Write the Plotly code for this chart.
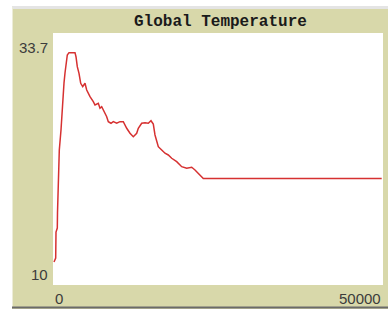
import plotly.graph_objects as go

# ---- data ----
ticks = [150, 409, 455, 652, 682, 803, 955, 1212, 1409, 1667, 1818, 1970, 2167, 2424,
         3333, 3485, 3682, 3939, 4197, 4500, 4848, 5106, 5606, 6106, 6364, 6864, 7121,
         7379, 7773, 8136, 8379, 8788, 9136, 9652, 10152, 10652, 11167, 11667, 12167,
         12682, 12924, 13440, 13940, 14440, 14848, 15197, 15455, 15712, 15955, 16470,
         16970, 17470, 17985, 18742, 19500, 20258, 21015, 21515, 22015, 22773, 49803]
temperature = [12.16, 12.54, 14.98, 15.36, 16.77, 19.12, 22.70, 24.58, 26.74, 29.00,
               29.94, 30.88, 31.63, 31.85, 31.85, 31.47, 30.53, 29.91, 28.97, 28.65,
               28.97, 28.34, 27.71, 27.24, 26.93, 27.09, 26.62, 26.77, 26.30, 25.83,
               25.36, 25.21, 25.36, 25.21, 25.36, 25.36, 24.74, 24.27, 23.95, 24.27,
               24.74, 25.21, 25.26, 25.21, 25.45, 25.14, 24.11, 23.48, 23.01, 22.70,
               22.39, 22.23, 21.92, 21.60, 21.13, 20.98, 21.07, 20.82, 20.51, 20.02, 20.02]

x_tick_vals = [0, 50000]
x_tick_text = ["0", "50000"]
y_tick_vals = [10, 33.7]
y_tick_text = ["10", "33.7"]
title_text = "Global Temperature"

# ---- layout geometry ----
W, H = 390, 309
ML, MR, MT, MB = 53, 7, 33, 24
PW, PH = W - ML - MR, H - MT - MB


def px_x(p):
    return (p - ML) / PW


def px_y(p):
    return (H - MB - p) / PH


KHAKI = "#d8d8aa"
TXT = "#3c3c3c"

fig = go.Figure()
fig.add_trace(go.Scatter(x=ticks, y=temperature, mode="lines",
                         line=dict(color="#d63131", width=1.5), hoverinfo="skip"))

shapes = [
    # white outside the frame
    dict(type="rect", xref="paper", yref="paper", x0=px_x(0), x1=px_x(12), y0=px_y(W), y1=px_y(0),
         fillcolor="white", line=dict(width=0), layer="below"),
    dict(type="rect", xref="paper", yref="paper", x0=px_x(0), x1=px_x(W), y0=px_y(6), y1=px_y(0),
         fillcolor="white", line=dict(width=0), layer="below"),
    dict(type="rect", xref="paper", yref="paper", x0=px_x(388), x1=px_x(W), y0=px_y(H), y1=px_y(0),
         fillcolor="white", line=dict(width=0), layer="below"),
    # frame edges
    dict(type="line", xref="paper", yref="paper", x0=px_x(12), x1=px_x(388), y0=px_y(7.5), y1=px_y(7.5),
         line=dict(color="#e4e4e4", width=3)),
    dict(type="line", xref="paper", yref="paper", x0=px_x(12.5), x1=px_x(12.5), y0=px_y(307), y1=px_y(7),
         line=dict(color="#ececd8", width=1)),
    dict(type="line", xref="paper", yref="paper", x0=px_x(12), x1=px_x(388), y0=px_y(307.5), y1=px_y(307.5),
         line=dict(color="#6a6a6a", width=2)),
]

annotations = [
    dict(text="<b>" + title_text + "</b>", xref="paper", yref="paper", x=px_x(221), y=px_y(22),
         xanchor="center", yanchor="middle", showarrow=False,
         font=dict(family="Liberation Mono", size=16, color="#1a1a1a")),
]
for v, t, anc in zip(x_tick_vals, x_tick_text, ["left", "right"]):
    annotations.append(dict(text=t, xref="x", yref="paper", x=v, y=px_y(298), xanchor=anc,
                            yanchor="middle", showarrow=False,
                            font=dict(family="Liberation Sans", size=15, color=TXT)))
for v, t, sh in zip(y_tick_vals, y_tick_text, [10.5, -14.5]):
    annotations.append(dict(text=t, xref="paper", yref="y", x=px_x(50), y=v, yshift=sh, xanchor="right",
                            yanchor="middle", showarrow=False,
                            font=dict(family="Liberation Sans", size=15, color=TXT)))

fig.update_layout(
    width=W, height=H,
    margin=dict(l=ML, r=MR, t=MT, b=MB, pad=0),
    paper_bgcolor=KHAKI, plot_bgcolor="white",
    showlegend=False,
    xaxis=dict(range=[0, 50000], showgrid=False, zeroline=False, showline=False,
               showticklabels=False, ticks="", fixedrange=True),
    yaxis=dict(range=[10, 33.7], showgrid=False, zeroline=False, showline=False,
               showticklabels=False, ticks="", fixedrange=True),
    shapes=shapes, annotations=annotations,
)

fig.write_html("out.html", config={"displayModeBar": False},
               post_script="document.body.style.margin='0px';document.body.style.overflow='hidden';")
